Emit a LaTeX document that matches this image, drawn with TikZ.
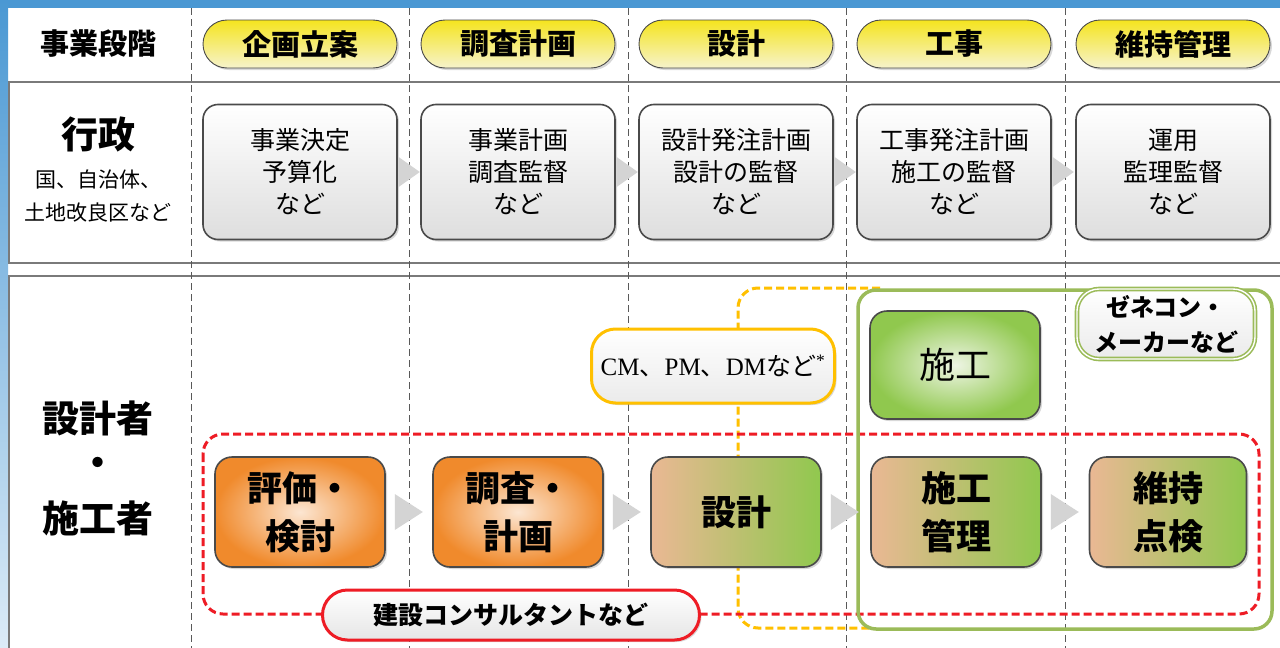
\documentclass[tikz,border=0pt]{standalone}
\usepackage{fontspec}
\setmainfont{Noto Sans CJK JP}
\newfontfamily\lat{Liberation Serif}
\usetikzlibrary{shadows,calc}
\definecolor{topblue}{HTML}{4A98D3}
\definecolor{lowblue}{HTML}{DCEBF7}
\definecolor{yelTop}{HTML}{F5E41E}
\definecolor{yelBot}{HTML}{F6F3CC}
\definecolor{boxline}{HTML}{4A4A4A}
\definecolor{orgIn}{HTML}{FCE6D2}
\definecolor{orgOut}{HTML}{F08A2C}
\definecolor{tanC}{HTML}{EAB894}
\definecolor{grnC}{HTML}{90C84E}
\definecolor{grnIn}{HTML}{EEF5E4}
\definecolor{olive}{HTML}{9BBB59}
\definecolor{amber}{HTML}{FFC000}
\definecolor{redC}{HTML}{EE1C25}
\definecolor{arrC}{HTML}{D4D4D4}
\definecolor{frameC}{HTML}{7A7A7A}
\newcommand\fsz[2]{\fontsize{#1}{#2}\selectfont}
\tikzset{
  coldash/.style={draw=black!65, line width=0.9pt, dash pattern=on 7pt off 4pt},
  framel/.style={draw=frameC, line width=1.6pt},
  softshadow/.style={drop shadow={shadow xshift=2pt, shadow yshift=-2pt, opacity=0.3}},
  stagepill/.style={draw=boxline, line width=0.9pt, rounded corners=24pt,
    minimum width=194pt, minimum height=48pt, top color=yelTop, bottom color=yelBot,
    font=\bfseries\fsz{29}{32}, softshadow},
  govbox/.style={draw=boxline, line width=1.6pt, rounded corners=15pt,
    minimum width=194pt, minimum height=135pt, top color=white, bottom color=black!13,
    align=center, font=\fsz{25}{32}, softshadow},
  workbox/.style={draw=boxline, line width=1.6pt, rounded corners=17pt,
    minimum width=170pt, minimum height=110pt, align=center,
    font=\bfseries\fsz{35}{48}, softshadow},
  orgbox/.style={workbox, inner color=orgIn, outer color=orgOut},
  mixbox/.style={workbox, left color=tanC, right color=grnC},
  grnbox/.style={workbox, inner color=grnIn, outer color=grnC, font=\fsz{36}{48}},
  arr/.style={fill=arrC},
  label/.style={font=\bfseries\fsz{29}{32}},
}
\begin{document}
\begin{tikzpicture}[x=1pt,y=-1pt]
\useasboundingbox (0,0) rectangle (1280,648);
\fill[white] (0,0) rectangle (1280,648);
% blue frame
\fill[topblue] (0,0) rectangle (1280,8);
\shade[top color=topblue, bottom color=lowblue] (0,0) rectangle (8,648);
% row frames
\draw[framel] (8,81.5) -- (1280,81.5);
\draw[framel] (1290,82.5) -- (8.8,82.5) -- (8.8,263) -- (1290,263);
\draw[framel] (1290,276) -- (8.8,276) -- (8.8,660);
% column dashed lines
\foreach \cx in {191,409,628,846,1065} \draw[coldash] (\cx,8) -- (\cx,648);

% left labels
\node[label] (lstage) at (98,44) {事業段階};
\node[font=\bfseries\fsz{37}{40}] (lgov) at (98,134) {行政};
\node[font=\fsz{21}{24}] (lgov2) at (98,180) {国、自治体、};
\node[font=\fsz{21}{24}] (lgov3) at (98,213) {土地改良区など};
\node[font=\bfseries\fsz{37}{40}] (ld1) at (98,418) {設計者};
\node[font=\bfseries\fsz{37}{40}] (ld2) at (98,467) {・};
\node[font=\bfseries\fsz{37}{40}] (ld3) at (98,518) {施工者};

% stage pills
\node[stagepill] (s1) at (300,44) {企画立案};
\node[stagepill] (s2) at (518,44) {調査計画};
\node[stagepill] (s3) at (736,44) {設計};
\node[stagepill] (s4) at (954,44) {工事};
\node[stagepill] (s5) at (1173,44) {維持管理};

% administration boxes
\node[govbox] (g1) at (300,172) {事業決定\\予算化\\など};
\node[govbox] (g2) at (518,172) {事業計画\\調査監督\\など};
\node[govbox] (g3) at (736,172) {設計発注計画\\設計の監督\\など};
\node[govbox] (g4) at (954,172) {工事発注計画\\施工の監督\\など};
\node[govbox] (g5) at (1173,172) {運用\\監理監督\\など};
\foreach \a/\b in {g1/g2,g2/g3,g3/g4,g4/g5}
  \fill[arr] ($(\a.east)+(0.8,-15)$) -- ($(\a.east)+(22,0)$) -- ($(\a.east)+(0.8,15)$) -- cycle;

% group frames
\draw[amber, line width=3pt, dash pattern=on 8pt off 4pt, rounded corners=20pt]
  (880,288) -- (738,288) -- (738,628) -- (870,628);
\draw[redC, line width=3pt, dash pattern=on 8pt off 4pt, rounded corners=20pt]
  (203,434) rectangle (1259,614);
\draw[olive, line width=3.5pt, rounded corners=18pt] (858,290) rectangle (1272,629);

% design / construction boxes
\node[orgbox] (e1) at (300,512) {評価・\\検討};
\node[orgbox] (e2) at (518,512) {調査・\\計画};
\node[mixbox] (e3) at (736,512) {設計};
\node[mixbox] (e4) at (956,512) {施工\\管理};
\node[mixbox, minimum width=157pt] (e5) at (1168,512) {維持\\点検};
\node[grnbox, minimum height=108pt] (c1) at (955,365) {施工};
\foreach \a/\b in {e1/e2,e2/e3,e3/e4,e4/e5}
  \fill[arr] ($(\a.east)+(9,-18)$) -- ($(\a.east)+(37,0)$) -- ($(\a.east)+(9,18)$) -- cycle;

% group labels
\node[draw=amber, line width=3pt, rounded corners=24pt, minimum width=243pt,
  minimum height=74pt, top color=white, bottom color=black!8, softshadow,
  inner xsep=2pt, font=\fsz{25}{30}] (cm) at (713,366)
  {{\lat CM}、{\lat PM}、{\lat DM}など\textsuperscript{\lat *}};
\node[draw=olive, line width=1.6pt, double=white, double distance=1.4pt,
  rounded corners=22pt, minimum width=178pt, minimum height=70pt,
  top color=white, bottom color=black!8, align=center,
  font=\bfseries\fsz{24}{35}] (gc) at (1166,324) {ゼネコン・\\メーカーなど};
\node[draw=redC, line width=3pt, rounded corners=25pt, minimum width=377pt,
  minimum height=50pt, top color=white, bottom color=black!10, softshadow,
  font=\bfseries\fsz{25}{30}] (kc) at (511,615) {建設コンサルタントなど};
\end{tikzpicture}
\end{document}
